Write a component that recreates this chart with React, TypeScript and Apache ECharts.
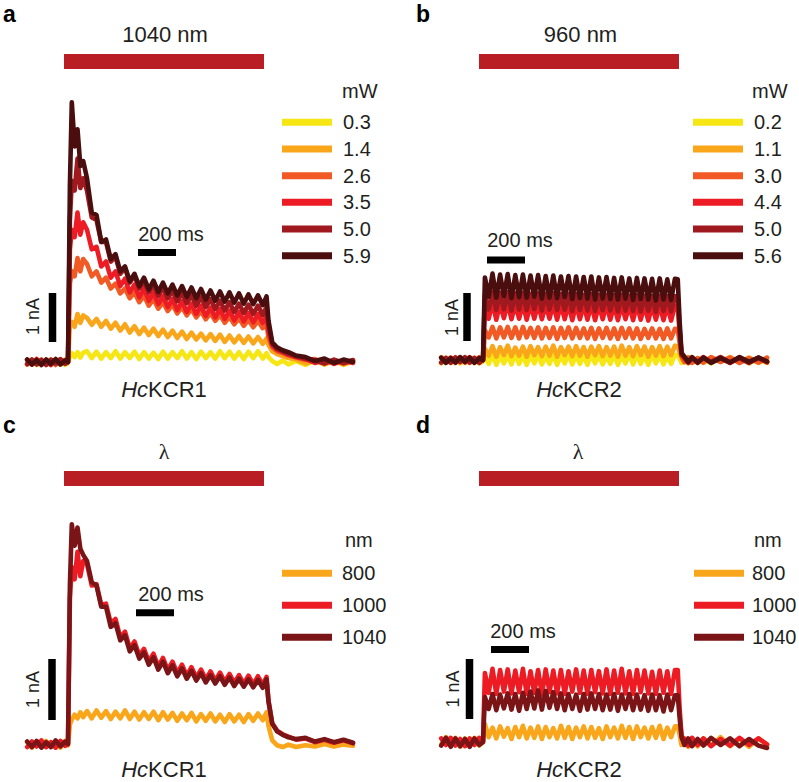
import React, { useEffect, useRef } from 'react';
import * as echarts from 'echarts';

// ---------------- DATA ----------------
// sample times (ms, light onset = 0)
const T_A = [
  -215, -190, -165, -140, -115, -90, -65, -40, -15,
  0, 10, 20, 35, 50, 65, 80,
  100, 125, 150, 175, 200, 225, 250, 275, 300, 325,
  350, 375, 400, 425, 450, 475, 500, 525, 550, 575,
  600, 625, 650, 675, 700, 725, 750, 775, 800, 825,
  850, 875, 900, 925, 950, 975, 1000, 1025,
  1045, 1055, 1075, 1100, 1130, 1160, 1200, 1250, 1300, 1350, 1400, 1450, 1500,
];
const T_B = [
  -220, -195, -170, -145, -120, -95, -70, -45, -20, 0,
  10, 30, 50, 70, 90, 110, 130, 150, 170, 190,
  210, 230, 250, 270, 290, 310, 330, 350, 370, 390,
  410, 430, 450, 470, 490, 510, 530, 550, 570, 590,
  610, 630, 650, 670, 690, 710, 730, 750, 770, 790,
  810, 830, 850, 870, 890, 910, 930, 950, 970, 990,
  1010,
  1025, 1035, 1045, 1060, 1080, 1100, 1130, 1160, 1200, 1250, 1300, 1350, 1400, 1450, 1495,
];

// panel a: HcKCR1, 1040 nm, power series (nA)
const A_LEVELS = ['0.3', '1.4', '2.6', '3.5', '5.0', '5.9'];
const A_03 = [
  -0.05, 0.03, -0.06, 0.04, -0.05, 0.05, -0.04, 0.03, -0.06,
  -0.02, 0.12, 0.18, 0.1, 0.2, 0.09, 0.19,
  0.22, 0.08, 0.21, 0.07, 0.2, 0.08, 0.22, 0.07, 0.2, 0.08,
  0.21, 0.06, 0.2, 0.07, 0.19, 0.06, 0.21, 0.07, 0.2, 0.08,
  0.22, 0.07, 0.2, 0.06, 0.21, 0.08, 0.2, 0.07, 0.22, 0.08,
  0.21, 0.07, 0.2, 0.06, 0.21, 0.08, 0.22, 0.07,
  0.18, 0.1, 0.02, -0.04, 0.03, -0.05, 0.02, -0.06, 0.03, -0.05, 0.02, -0.06, 0.01,
];
const A_14 = [
  0.05, -0.04, 0.05, -0.06, 0.04, -0.05, 0.03, -0.05, 0.05,
  0.0, 0.75, 0.82, 0.72, 0.98, 0.8, 0.95,
  0.9, 0.76, 0.88, 0.72, 0.84, 0.68, 0.8, 0.64, 0.77, 0.6,
  0.73, 0.57, 0.7, 0.55, 0.68, 0.53, 0.66, 0.51, 0.64, 0.49,
  0.62, 0.47, 0.6, 0.46, 0.58, 0.44, 0.57, 0.43, 0.56, 0.41,
  0.54, 0.4, 0.53, 0.39, 0.52, 0.38, 0.51, 0.37,
  0.48, 0.35, 0.22, 0.16, 0.12, 0.08, 0.05, -0.03, 0.04, -0.05, 0.03, -0.04, 0.02,
];
const A_26 = [
  -0.05, 0.04, -0.03, 0.05, -0.05, 0.04, -0.06, 0.05, -0.03,
  0.0, 1.6, 1.85, 1.75, 2.12, 1.85, 2.1,
  2.0, 1.75, 1.85, 1.62, 1.72, 1.5, 1.6, 1.4, 1.5, 1.3,
  1.42, 1.22, 1.35, 1.15, 1.28, 1.09, 1.22, 1.04, 1.17, 0.99,
  1.12, 0.95, 1.08, 0.91, 1.04, 0.87, 1.0, 0.84, 0.96, 0.8,
  0.92, 0.77, 0.89, 0.74, 0.86, 0.71, 0.84, 0.69,
  0.78, 0.5, 0.3, 0.22, 0.18, 0.13, 0.09, 0.04, 0.06, -0.03, 0.04, -0.04, 0.03,
];
const A_35 = [
  0.04, -0.05, 0.06, -0.04, 0.03, -0.06, 0.05, -0.03, 0.04,
  0.0, 2.3, 2.7, 2.55, 3.05, 2.6, 2.85,
  2.7, 2.3, 2.35, 1.95, 2.05, 1.72, 1.85, 1.55, 1.7, 1.42,
  1.58, 1.32, 1.5, 1.25, 1.42, 1.18, 1.35, 1.12, 1.29, 1.06,
  1.24, 1.02, 1.19, 0.98, 1.15, 0.94, 1.11, 0.91, 1.08, 0.88,
  1.05, 0.85, 1.02, 0.83, 1.0, 0.81, 0.98, 0.8,
  0.95, 0.62, 0.34, 0.25, 0.2, 0.15, 0.1, 0.06, -0.02, 0.05, -0.04, 0.03, -0.02,
];
const A_50 = [
  -0.04, 0.05, -0.05, 0.04, -0.06, 0.05, -0.03, 0.06, -0.04,
  0.0, 2.9, 3.7, 3.5, 4.15, 3.55, 3.75,
  3.5, 2.95, 2.9, 2.45, 2.45, 2.05, 2.15, 1.8, 1.92, 1.62,
  1.76, 1.5, 1.66, 1.42, 1.58, 1.35, 1.52, 1.3, 1.46, 1.24,
  1.41, 1.2, 1.36, 1.15, 1.32, 1.12, 1.28, 1.08, 1.25, 1.05,
  1.22, 1.02, 1.19, 1.0, 1.17, 0.98, 1.15, 0.96,
  1.12, 0.75, 0.38, 0.27, 0.22, 0.17, 0.12, 0.07, 0.03, -0.03, 0.05, -0.02, 0.04,
];
const A_59 = [
  0.05, -0.05, 0.04, -0.06, 0.05, -0.04, 0.06, -0.05, 0.03,
  0.0, 3.6, 5.3, 4.4, 4.75, 4.0, 4.1,
  3.75, 3.05, 3.0, 2.45, 2.5, 2.1, 2.2, 1.85, 1.95, 1.65,
  1.8, 1.55, 1.72, 1.48, 1.66, 1.43, 1.62, 1.4, 1.58, 1.36,
  1.55, 1.33, 1.52, 1.3, 1.49, 1.27, 1.46, 1.25, 1.44, 1.23,
  1.42, 1.21, 1.4, 1.19, 1.38, 1.18, 1.36, 1.16,
  1.34, 0.85, 0.4, 0.3, 0.24, 0.2, 0.13, 0.1, 0.02, 0.07, -0.02, 0.05, 0.0,
];

// panel b: HcKCR2, 960 nm, power series (nA)
const B_LEVELS = ['0.2', '1.1', '3.0', '4.4', '5.0', '5.6'];
const B_02 = [
  -0.07, 0.03, -0.06, 0.04, -0.07, 0.02, -0.06, 0.03, -0.07, -0.03,
  0.08, -0.08, 0.11, -0.10, 0.09, -0.07, 0.10, -0.09, 0.12, -0.08,
  0.09, -0.10, 0.11, -0.07, 0.10, -0.09, 0.08, -0.08, 0.11, -0.10,
  0.09, -0.07, 0.12, -0.09, 0.10, -0.08, 0.09, -0.10, 0.11, -0.07,
  0.10, -0.09, 0.08, -0.08, 0.11, -0.10, 0.09, -0.07, 0.12, -0.09,
  0.10, -0.08, 0.09, -0.10, 0.11, -0.07, 0.10, -0.09, 0.08, -0.08,
  0.11,
  0.10, 0.02, -0.06, 0.04, -0.07, 0.05, -0.06, 0.03, -0.07, 0.05, -0.05, 0.04, -0.07, 0.03, -0.06,
];
const B_11 = [
  0.06, -0.04, 0.05, -0.05, 0.06, -0.06, 0.04, -0.05, 0.06, 0.0,
  0.24, 0.09, 0.29, 0.07, 0.27, 0.10, 0.30, 0.08, 0.26, 0.09,
  0.28, 0.07, 0.29, 0.10, 0.27, 0.08, 0.28, 0.09, 0.30, 0.07,
  0.27, 0.10, 0.28, 0.08, 0.29, 0.09, 0.27, 0.07, 0.28, 0.10,
  0.29, 0.08, 0.27, 0.09, 0.28, 0.07, 0.30, 0.09, 0.27, 0.08,
  0.29, 0.10, 0.28, 0.07, 0.27, 0.09, 0.29, 0.08, 0.28, 0.10,
  0.30,
  0.28, 0.15, 0.04, -0.05, 0.06, -0.05, 0.04, -0.06, 0.05, -0.04, 0.06, -0.05, 0.05, -0.06, 0.04,
];
const B_30 = [
  -0.06, 0.05, -0.04, 0.06, -0.05, 0.04, -0.06, 0.05, -0.04, 0.0,
  0.62, 0.47, 0.69, 0.45, 0.68, 0.47, 0.69, 0.46, 0.68, 0.45,
  0.69, 0.47, 0.67, 0.46, 0.68, 0.45, 0.67, 0.46, 0.68, 0.44,
  0.67, 0.46, 0.68, 0.45, 0.67, 0.46, 0.66, 0.45, 0.67, 0.44,
  0.66, 0.46, 0.67, 0.45, 0.66, 0.44, 0.67, 0.46, 0.66, 0.45,
  0.66, 0.44, 0.65, 0.46, 0.66, 0.45, 0.65, 0.44, 0.66, 0.45,
  0.65,
  0.64, 0.35, 0.08, -0.04, 0.05, -0.06, 0.04, -0.05, 0.06, -0.04, 0.05, -0.06, 0.04, -0.05, 0.05,
];
const B_44 = [
  0.04, -0.05, 0.05, -0.06, 0.04, -0.05, 0.06, -0.04, 0.05, 0.0,
  1.12, 0.86, 1.20, 0.84, 1.18, 0.87, 1.19, 0.85, 1.17, 0.86,
  1.18, 0.84, 1.17, 0.86, 1.18, 0.85, 1.16, 0.86, 1.17, 0.84,
  1.16, 0.85, 1.17, 0.83, 1.16, 0.85, 1.15, 0.84, 1.16, 0.83,
  1.15, 0.85, 1.16, 0.84, 1.14, 0.83, 1.15, 0.85, 1.14, 0.83,
  1.15, 0.84, 1.14, 0.82, 1.13, 0.84, 1.14, 0.83, 1.13, 0.82,
  1.13,
  1.12, 0.55, 0.1, 0.04, -0.06, 0.05, -0.04, 0.06, -0.05, 0.04, -0.06, 0.05, -0.05, 0.04, -0.05,
];
const B_50 = [
  -0.05, 0.04, -0.06, 0.05, -0.04, 0.06, -0.05, 0.04, -0.06, 0.0,
  1.35, 1.05, 1.42, 1.04, 1.40, 1.06, 1.41, 1.03, 1.39, 1.05,
  1.40, 1.04, 1.38, 1.06, 1.39, 1.03, 1.38, 1.05, 1.39, 1.04,
  1.37, 1.05, 1.38, 1.02, 1.37, 1.04, 1.36, 1.03, 1.37, 1.02,
  1.35, 1.04, 1.36, 1.03, 1.35, 1.01, 1.36, 1.03, 1.34, 1.02,
  1.35, 1.01, 1.34, 1.03, 1.33, 1.00, 1.34, 1.02, 1.33, 1.01,
  1.33,
  1.32, 0.65, 0.12, 0.05, -0.05, 0.04, -0.06, 0.05, -0.04, 0.06, -0.05, 0.04, -0.06, 0.05, -0.04,
];
const B_56 = [
  0.05, -0.06, 0.04, -0.05, 0.06, -0.04, 0.05, -0.06, 0.04, 0.0,
  1.72, 1.32, 1.80, 1.30, 1.78, 1.33, 1.79, 1.29, 1.77, 1.31,
  1.78, 1.30, 1.76, 1.32, 1.77, 1.28, 1.75, 1.30, 1.76, 1.29,
  1.74, 1.31, 1.75, 1.27, 1.74, 1.29, 1.73, 1.28, 1.74, 1.26,
  1.72, 1.28, 1.73, 1.27, 1.71, 1.26, 1.72, 1.28, 1.70, 1.25,
  1.71, 1.27, 1.70, 1.26, 1.69, 1.24, 1.70, 1.26, 1.68, 1.25,
  1.69,
  1.68, 0.8, 0.15, 0.07, -0.04, 0.06, -0.05, 0.05, -0.06, 0.04, -0.05, 0.06, -0.04, 0.05, -0.03,
];

// panel c: HcKCR1, wavelength series (nA)
const WL_LEVELS = ['800', '1000', '1040'];
const C_800 = [
  0.03, -0.06, 0.04, -0.05, 0.05, -0.04, 0.03, -0.06, 0.05,
  -0.02, 0.32, 0.4, 0.48, 0.42, 0.52, 0.44,
  0.54, 0.42, 0.55, 0.43, 0.54, 0.41, 0.53, 0.42, 0.55, 0.41,
  0.53, 0.4, 0.52, 0.41, 0.53, 0.39, 0.52, 0.4, 0.51, 0.38,
  0.5, 0.39, 0.51, 0.37, 0.49, 0.38, 0.5, 0.37, 0.48, 0.36,
  0.49, 0.37, 0.48, 0.36, 0.49, 0.38, 0.5, 0.39,
  0.52, 0.3, 0.06, -0.02, -0.05, -0.01, -0.05, -0.02, -0.04, 0.0, -0.04, -0.01, -0.03,
];
const C_1000 = [
  -0.05, 0.04, -0.04, 0.06, -0.05, 0.03, -0.06, 0.05, -0.03,
  0.0, 2.4, 2.9, 2.7, 3.15, 2.75, 3.0,
  2.95, 2.6, 2.62, 2.28, 2.3, 1.98, 2.05, 1.75, 1.84, 1.57,
  1.68, 1.45, 1.56, 1.35, 1.48, 1.27, 1.41, 1.21, 1.35, 1.16,
  1.3, 1.12, 1.26, 1.09, 1.22, 1.06, 1.19, 1.04, 1.17, 1.02,
  1.15, 1.0, 1.13, 0.99, 1.12, 0.98, 1.11, 0.97,
  1.1, 0.72, 0.34, 0.22, 0.16, 0.12, 0.07, 0.09, 0.03, 0.07, 0.02, 0.06, 0.01,
];
const C_1040 = [
  0.04, -0.05, 0.05, -0.06, 0.03, -0.05, 0.06, -0.04, 0.04,
  0.0, 2.6, 3.6, 3.25, 3.55, 3.2, 3.1,
  3.0, 2.65, 2.6, 2.25, 2.25, 1.92, 1.98, 1.7, 1.78, 1.52,
  1.62, 1.4, 1.5, 1.3, 1.42, 1.22, 1.35, 1.16, 1.29, 1.11,
  1.24, 1.07, 1.2, 1.04, 1.16, 1.01, 1.13, 0.99, 1.11, 0.97,
  1.09, 0.95, 1.07, 0.94, 1.06, 0.93, 1.05, 0.92,
  1.06, 0.7, 0.33, 0.21, 0.15, 0.11, 0.08, 0.1, 0.04, 0.08, 0.03, 0.07, 0.02,
];

// panel d: HcKCR2, wavelength series (nA)
const D_800 = [
  -0.04, 0.08, -0.06, 0.07, -0.08, 0.06, -0.05, 0.07, -0.06, 0.0,
  0.30, 0.08, 0.24, 0.06, 0.26, 0.09, 0.23, 0.05, 0.25, 0.08,
  0.27, 0.06, 0.24, 0.07, 0.26, 0.05, 0.25, 0.08, 0.23, 0.06,
  0.27, 0.07, 0.25, 0.05, 0.24, 0.08, 0.26, 0.06, 0.25, 0.07,
  0.23, 0.05, 0.26, 0.08, 0.24, 0.06, 0.27, 0.07, 0.25, 0.05,
  0.26, 0.08, 0.24, 0.06, 0.25, 0.07, 0.27, 0.05, 0.24, 0.08,
  0.26,
  0.26, 0.12, -0.05, 0.06, -0.08, 0.05, -0.07, 0.06, -0.06, 0.08, -0.07, 0.05, -0.08, 0.06, -0.05,
];
const D_1000 = [
  0.06, -0.05, 0.07, -0.06, 0.05, -0.07, 0.06, -0.05, 0.07, 0.0,
  1.15, 0.82, 1.22, 0.80, 1.20, 0.84, 1.21, 0.81, 1.19, 0.83,
  1.22, 0.80, 1.18, 0.82, 1.20, 0.79, 1.21, 0.83, 1.19, 0.81,
  1.20, 0.80, 1.18, 0.84, 1.21, 0.82, 1.19, 0.80, 1.20, 0.83,
  1.18, 0.81, 1.21, 0.80, 1.19, 0.82, 1.22, 0.81, 1.18, 0.80,
  1.20, 0.83, 1.19, 0.81, 1.17, 0.80, 1.19, 0.82, 1.18, 0.80,
  1.20,
  1.2, 0.55, 0.1, 0.05, -0.06, 0.07, -0.05, 0.06, -0.07, 0.05, -0.06, 0.07, -0.05, 0.06, -0.04,
];
const D_1040 = [
  -0.06, 0.07, -0.08, 0.06, -0.07, 0.05, -0.08, 0.06, -0.05, 0.0,
  0.75, 0.55, 0.80, 0.53, 0.79, 0.56, 0.81, 0.54, 0.80, 0.52,
  0.82, 0.55, 0.84, 0.56, 0.86, 0.54, 0.85, 0.57, 0.83, 0.55,
  0.81, 0.53, 0.80, 0.55, 0.79, 0.52, 0.80, 0.54, 0.81, 0.55,
  0.80, 0.53, 0.79, 0.54, 0.80, 0.52, 0.79, 0.55, 0.80, 0.53,
  0.79, 0.54, 0.78, 0.52, 0.79, 0.53, 0.78, 0.51, 0.79, 0.53,
  0.78,
  0.78, 0.4, 0.08, -0.05, 0.06, -0.07, 0.05, -0.06, 0.07, -0.05, 0.06, -0.07, 0.05, -0.06, -0.1,
];

const SCALE_MS = 200; // time scale bar
const SCALE_NA = 1; // current scale bar

// ---------------- STYLE / LAYOUT ----------------
const FONT = "'Liberation Sans', Arial, Helvetica, sans-serif";
const INK = '#231f20';
const STIM_RED = '#b91e25';
const COL = {
  yellow: '#f5e614',
  amber: '#f9a61a',
  orange: '#f15a24',
  red: '#ed1c24',
  darkred: '#a0191e',
  brown: '#4b0e0e',
  maroon: '#7b1416',
};
const PX_PER_MS = 0.19;
const X_MIN = -300;
const X_MAX = 1600;
const LINE_W = 4.6;

type Panel = {
  letter: string;
  times: number[];
  traces: { name: string; values: number[]; color: string }[];
  title: string;
  serifTitle: boolean;
  header: string;
  construct: string;
  stepPx: number; basePx: number; pxPerNA: number; gridTop: number; gridBottom: number;
  letterX: number; letterY: number;
  titleX: number; titleY: number;
  barPx: [number, number]; barY: number;
  naBarX: number; naBarBottom: number; naTextX: number; naTextY: number;
  msBarX: number; msBarY: number; msTextX: number; msTextY: number;
  legendX: number; legendFirstY: number; legendStep: number; legendTextX: number;
  headerX: number; headerY: number;
  nameX: number; nameY: number;
};

const PANELS: Panel[] = [
  {
    letter: 'a', times: T_A,
    traces: [
      { name: A_LEVELS[0], values: A_03, color: COL.yellow },
      { name: A_LEVELS[1], values: A_14, color: COL.amber },
      { name: A_LEVELS[2], values: A_26, color: COL.orange },
      { name: A_LEVELS[3], values: A_35, color: COL.red },
      { name: A_LEVELS[4], values: A_50, color: COL.darkred },
      { name: A_LEVELS[5], values: A_59, color: COL.brown },
    ],
    title: '1040 nm', serifTitle: false, header: 'mW', construct: 'KCR1',
    stepPx: 68, basePx: 362, pxPerNA: 49, gridTop: 40, gridBottom: 395,
    letterX: 3, letterY: 14, titleX: 165, titleY: 34.5,
    barPx: [64, 264], barY: 61.5,
    naBarX: 52.5, naBarBottom: 342, naTextX: 33, naTextY: 316.5,
    msBarX: 138, msBarY: 252.5, msTextX: 171, msTextY: 233.5,
    legendX: 282, legendFirstY: 122.3, legendStep: 26.67, legendTextX: 343,
    headerX: 342, headerY: 91, nameX: 164, nameY: 389,
  },
  {
    letter: 'b', times: T_B,
    traces: [
      { name: B_LEVELS[0], values: B_02, color: COL.yellow },
      { name: B_LEVELS[1], values: B_11, color: COL.amber },
      { name: B_LEVELS[2], values: B_30, color: COL.orange },
      { name: B_LEVELS[3], values: B_44, color: COL.red },
      { name: B_LEVELS[4], values: B_50, color: COL.darkred },
      { name: B_LEVELS[5], values: B_56, color: COL.brown },
    ],
    title: '960 nm', serifTitle: false, header: 'mW', construct: 'KCR2',
    stepPx: 483, basePx: 360, pxPerNA: 48, gridTop: 40, gridBottom: 395,
    letterX: 416, letterY: 14, titleX: 580.5, titleY: 34.5,
    barPx: [479, 679], barY: 61.5,
    naBarX: 467, naBarBottom: 341, naTextX: 452, naTextY: 317.5,
    msBarX: 487, msBarY: 260, msTextX: 520, msTextY: 240,
    legendX: 693, legendFirstY: 122.3, legendStep: 26.67, legendTextX: 754,
    headerX: 752, headerY: 91, nameX: 579, nameY: 389,
  },
  {
    letter: 'c', times: T_A,
    traces: [
      { name: WL_LEVELS[0], values: C_800, color: COL.amber },
      { name: WL_LEVELS[1], values: C_1000, color: COL.red },
      { name: WL_LEVELS[2], values: C_1040, color: COL.maroon },
    ],
    title: 'λ', serifTitle: true, header: 'nm', construct: 'KCR1',
    stepPx: 68, basePx: 744, pxPerNA: 61, gridTop: 440, gridBottom: 780,
    letterX: 3, letterY: 425, titleX: 164, titleY: 451,
    barPx: [64, 264], barY: 478.5,
    naBarX: 52, naBarBottom: 720, naTextX: 33, naTextY: 689.5,
    msBarX: 136, msBarY: 612.7, msTextX: 171, msTextY: 594,
    legendX: 282, legendFirstY: 573.3, legendStep: 32, legendTextX: 342,
    headerX: 345, headerY: 540, nameX: 164, nameY: 769.5,
  },
  {
    letter: 'd', times: T_B,
    traces: [
      { name: WL_LEVELS[0], values: D_800, color: COL.amber },
      { name: WL_LEVELS[1], values: D_1000, color: COL.red },
      { name: WL_LEVELS[2], values: D_1040, color: COL.maroon },
    ],
    title: 'λ', serifTitle: true, header: 'nm', construct: 'KCR2',
    stepPx: 483, basePx: 742, pxPerNA: 60, gridTop: 440, gridBottom: 780,
    letterX: 416, letterY: 425, titleX: 578, titleY: 451,
    barPx: [479, 679], barY: 478.5,
    naBarX: 469.5, naBarBottom: 719, naTextX: 453, naTextY: 689,
    msBarX: 491, msBarY: 649.5, msTextX: 523, msTextY: 631,
    legendX: 694, legendFirstY: 573.3, legendStep: 32, legendTextX: 752,
    headerX: 754, headerY: 540, nameX: 579, nameY: 769.5,
  },
];

function buildOption() {
  const grid: any[] = [];
  const xAxis: any[] = [];
  const yAxis: any[] = [];
  const series: any[] = [];
  const legend: any[] = [];
  const graphic: any[] = [];

  PANELS.forEach((p, i) => {
    const tOf = (px: number) => (px - p.stepPx) / PX_PER_MS;
    const vOf = (py: number) => (p.basePx - py) / p.pxPerNA;
    grid.push({
      left: p.stepPx + X_MIN * PX_PER_MS,
      top: p.gridTop,
      width: (X_MAX - X_MIN) * PX_PER_MS,
      height: p.gridBottom - p.gridTop,
      containLabel: false,
    });
    xAxis.push({ type: 'value', gridIndex: i, min: X_MIN, max: X_MAX, show: false });
    yAxis.push({ type: 'value', gridIndex: i, min: vOf(p.gridBottom), max: vOf(p.gridTop), show: false });

    p.traces.forEach((tr) => {
      const n = Math.min(p.times.length, tr.values.length);
      const data: number[][] = [];
      for (let k = 0; k < n; k++) data.push([p.times[k], tr.values[k]]);
      series.push({
        type: 'line', name: tr.name, xAxisIndex: i, yAxisIndex: i, data,
        symbol: 'none', showSymbol: false, silent: true, clip: false,
        color: tr.color, itemStyle: { color: tr.color },
        lineStyle: { color: tr.color, width: LINE_W, cap: 'round', join: 'round' },
      });
    });

    // light stimulus bar
    const by = vOf(p.barY);
    series.push({
      type: 'line', name: 'light', xAxisIndex: i, yAxisIndex: i, symbol: 'none', silent: true, clip: false,
      data: [[tOf(p.barPx[0]), by], [tOf(p.barPx[1]), by]],
      lineStyle: { color: STIM_RED, width: 15, cap: 'butt' }, color: STIM_RED,
    });
    // 1 nA scale bar
    const nx = tOf(p.naBarX);
    const n0 = vOf(p.naBarBottom);
    series.push({
      type: 'line', name: 'nA bar', xAxisIndex: i, yAxisIndex: i, symbol: 'none', silent: true, clip: false,
      data: [[nx, n0], [nx, n0 + SCALE_NA]],
      lineStyle: { color: '#000', width: 7.5, cap: 'butt' }, color: '#000',
    });
    // 200 ms scale bar
    const m0 = tOf(p.msBarX);
    const my = vOf(p.msBarY);
    series.push({
      type: 'line', name: 'ms bar', xAxisIndex: i, yAxisIndex: i, symbol: 'none', silent: true, clip: false,
      data: [[m0, my], [m0 + SCALE_MS, my]],
      lineStyle: { color: '#000', width: 7, cap: 'butt' }, color: '#000',
    });

    // legend
    const itemH = 7;
    const boxH = 24; // text box height incl. padding
    legend.push({
      orient: 'vertical',
      left: p.legendX,
      top: p.legendFirstY - boxH / 2,
      itemWidth: 50,
      itemHeight: itemH,
      itemGap: p.legendStep - boxH,
      padding: 0,
      icon: 'rect',
      selectedMode: false,
      data: p.traces.map((t) => t.name),
      textStyle: {
        fontFamily: FONT, fontSize: 20, lineHeight: 20, color: INK,
        padding: [4, 0, 0, p.legendTextX - (p.legendX + 55)],
      },
    });

    // texts
    graphic.push({
      type: 'text', x: p.letterX, y: p.letterY,
      style: { text: p.letter, fill: '#000', fontFamily: FONT, fontSize: 23, fontWeight: 'bold', textAlign: 'left', textVerticalAlign: 'middle' },
    });
    graphic.push({
      type: 'text', x: p.titleX, y: p.titleY,
      style: {
        text: p.title, fill: INK, fontFamily: p.serifTitle ? "'Liberation Serif', 'DejaVu Serif', serif" : FONT,
        fontSize: 22, textAlign: 'center', textVerticalAlign: 'middle',
      },
    });
    graphic.push({
      type: 'text', x: p.naTextX, y: p.naTextY, rotation: Math.PI / 2,
      style: { text: SCALE_NA + ' nA', fill: INK, fontFamily: FONT, fontSize: 18, textAlign: 'center', textVerticalAlign: 'middle' },
    });
    graphic.push({
      type: 'text', x: p.msTextX, y: p.msTextY,
      style: { text: SCALE_MS + ' ms', fill: INK, fontFamily: FONT, fontSize: 20, textAlign: 'center', textVerticalAlign: 'middle' },
    });
    graphic.push({
      type: 'text', x: p.headerX, y: p.headerY,
      style: { text: p.header, fill: INK, fontFamily: FONT, fontSize: 20, textAlign: 'left', textVerticalAlign: 'middle' },
    });
    graphic.push({
      type: 'text', x: p.nameX, y: p.nameY,
      style: {
        text: '{i|Hc}{n|' + p.construct + '}', textAlign: 'center', textVerticalAlign: 'middle',
        fontFamily: FONT, fontSize: 22, fill: INK,
        rich: {
          i: { fontFamily: FONT, fontSize: 22, fontStyle: 'italic', fill: INK },
          n: { fontFamily: FONT, fontSize: 22, fill: INK },
        },
      },
    });
  });

  return {
    animation: false,
    backgroundColor: '#ffffff',
    grid, xAxis, yAxis, series, legend, graphic,
  };
}

export default function App() {
  const ref = useRef<HTMLDivElement>(null);
  useEffect(() => {
    if (!ref.current) return;
    const chart = echarts.init(ref.current, undefined, { renderer: 'svg', width: 799, height: 782 });
    chart.setOption(buildOption() as any);
    return () => chart.dispose();
  }, []);
  return (
    <div
      ref={ref}
      style={{ position: 'absolute', left: 0, top: 0, width: 799, height: 782, background: '#fff' }}
    />
  );
}
